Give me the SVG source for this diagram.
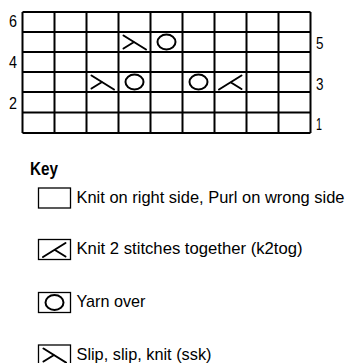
<svg xmlns="http://www.w3.org/2000/svg" width="351" height="363" viewBox="0 0 351 363">
<style>
.grid{stroke:#000;stroke-width:2;fill:none}
.sym{stroke:#000;stroke-width:2;fill:none;stroke-linecap:round}
.box{stroke:#000;stroke-width:1.3;fill:#fff}
.num{font-family:"Liberation Sans Narrow","Liberation Sans",sans-serif;font-size:17px;fill:#000}
.lbl{font-family:"Liberation Sans Narrow","Liberation Sans",sans-serif;font-size:17px;fill:#000}
.key{font-family:"Liberation Sans Narrow","Liberation Sans",sans-serif;font-size:18px;font-weight:bold;fill:#000}
</style>
<defs>
<g id="ssk"><path class="sym" d="M5 3.5 L27.5 17.5 M5 16.5 L15.5 10"/></g>
<g id="k2tog"><path class="sym" d="M27 3.5 L4.5 17.5 M27 17 L16.5 10.5"/></g>
<g id="yo"><ellipse class="sym" cx="16" cy="10" rx="9" ry="7.5"/></g>
</defs>
<rect width="351" height="363" fill="#fff"/>
<g id="chart">
<path class="grid" d="M22.5 12 H310.5 M22.5 32 H310.5 M22.5 52 H310.5 M22.5 72 H310.5 M22.5 92 H310.5 M22.5 112.5 H310.5 M22.5 133 H310.5
M22.5 12 V133 M54.5 12 V133 M86.5 12 V133 M118.5 12 V133 M150.5 12 V133 M182.5 12 V133 M214.5 12 V133 M246.5 12 V133 M278.5 12 V133 M310.5 12 V133"/>
</g>
<g id="stitches">
<use href="#ssk" x="118.5" y="32"/>
<use href="#yo" x="150.5" y="32"/>
<use href="#ssk" x="86.5" y="72"/>
<use href="#yo" x="118.5" y="72"/>
<use href="#yo" x="182.5" y="72"/>
<use href="#k2tog" x="214.5" y="72"/>
</g>
<g id="row-numbers">
<text class="num" x="9" y="26.5" textLength="8" lengthAdjust="spacingAndGlyphs">6</text>
<text class="num" x="9" y="67.5" textLength="8" lengthAdjust="spacingAndGlyphs">4</text>
<text class="num" x="9" y="108.5" textLength="8" lengthAdjust="spacingAndGlyphs">2</text>
<text class="num" x="316" y="49" textLength="7.5" lengthAdjust="spacingAndGlyphs">5</text>
<text class="num" x="316" y="89.5" textLength="7.5" lengthAdjust="spacingAndGlyphs">3</text>
<text class="num" x="316" y="130" textLength="6" lengthAdjust="spacingAndGlyphs">1</text>
</g>
<g id="key-title"><text class="key" x="30" y="175" textLength="28" lengthAdjust="spacingAndGlyphs">Key</text></g>
<g id="key-knit">
<rect class="box" x="38.5" y="188" width="32" height="20"/>
<text class="lbl" transform="translate(76.5 202.7) scale(0.88 1)" x="0" y="0" textLength="304.5" lengthAdjust="spacingAndGlyphs">Knit on right side, Purl on wrong side</text>
</g>
<g id="key-k2tog">
<rect class="box" x="38.5" y="239.5" width="32" height="20"/>
<use href="#k2tog" x="38.5" y="239.5"/>
<text class="lbl" x="76.5" y="254" textLength="226" lengthAdjust="spacingAndGlyphs">Knit 2 stitches together (k2tog)</text>
</g>
<g id="key-yo">
<rect class="box" x="38.5" y="292.5" width="32" height="20"/>
<use href="#yo" x="38.5" y="292.5"/>
<text class="lbl" x="76.5" y="307" textLength="69" lengthAdjust="spacingAndGlyphs">Yarn over</text>
</g>
<g id="key-ssk">
<rect class="box" x="38.5" y="345" width="32" height="20"/>
<use href="#ssk" x="38.5" y="345"/>
<text class="lbl" x="76.5" y="359.7" textLength="135" lengthAdjust="spacingAndGlyphs">Slip, slip, knit (ssk)</text>
</g>
</svg>
